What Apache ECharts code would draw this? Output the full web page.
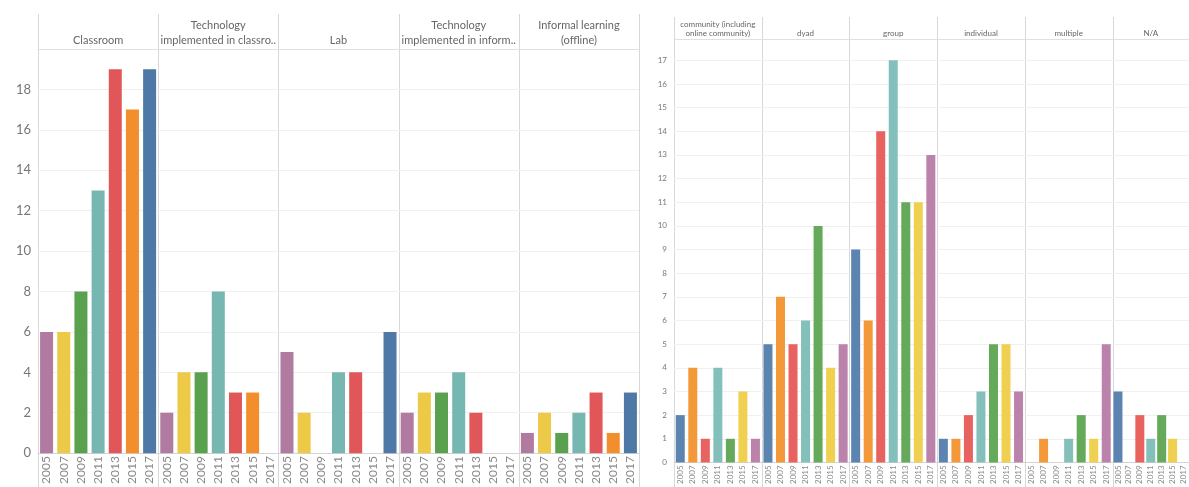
<!DOCTYPE html>
<html><head><meta charset="utf-8">
<script src="https://cdn.jsdelivr.net/npm/echarts@6/dist/echarts.min.js"></script>
<style>html,body{margin:0;padding:0;background:#fff}#c{width:1189px;height:487px}</style>
</head><body><div id="c"></div>
<script>
// ---- data ----
const years = ['2005','2007','2009','2011','2013','2015','2017'];

const leftHeaders = ['Classroom','Technology\nimplemented in classro..','Lab','Technology\nimplemented in inform..','Informal learning\n(offline)'];
const classroom      = [6, 6, 8, 13, 19, 17, 19];
const techClassroom  = [2, 4, 4, 8, 3, 3, null];
const lab            = [5, 2, null, 4, 4, null, 6];
const techInformal   = [2, 3, 3, 4, 2, null, null];
const informal       = [1, 2, 1, 2, 3, 1, 3];
const leftValues = [classroom, techClassroom, lab, techInformal, informal];
const leftTicks = [0, 2, 4, 6, 8, 10, 12, 14, 16, 18];

const rightHeaders = ['community (including\nonline community)','dyad','group','individual','multiple','N/A'];
const community  = [2, 4, 1, 4, 1, 3, 1];
const dyad       = [5, 7, 5, 6, 10, 4, 5];
const group      = [9, 6, 14, 17, 11, 11, 13];
const individual = [1, 1, 2, 3, 5, 5, 3];
const multiple   = [null, 1, null, 1, 2, 1, 5];
const na         = [3, null, 2, 1, 2, 1, null];
const rightValues = [community, dyad, group, individual, multiple, na];
const rightTicks = [0,1,2,3,4,5,6,7,8,9,10,11,12,13,14,15,16,17];

const leftColors  = ['#b07aa1','#edc948','#59a14f','#76b7b2','#e15759','#f28e2b','#4e79a7'];
const rightColors = ['#5b84b0','#f4993a','#e8625f','#84c0bb','#64aa5a','#f0d050','#bb83ac'];

// ---- layout ----
const L = {x0: 38, panelW: 120.2, headTop: 14, plotTop: 49, base: 459, max: 20, interval: 2,
           barW: 13, tickFont: 13, xFont: 12, xMargin: 3, headFont: 11, headLH: 15, headMargin: 1, yLabelMargin: 7};
const R = {x0: 674, panelW: 87.7, headTop: 17, plotTop: 39, base: 470, max: 17.9, interval: 1,
           barW: 9, tickFont: 8, xFont: 8, xMargin: 3, headFont: 8, headLH: 9, headMargin: 1, yLabelMargin: 7};
const H = 487;

const option = {animation:false, grid:[], xAxis:[], yAxis:[], series:[], graphic:[]};
const FONT = 'Lato';

function build(cfg, headers, values, colors, ticks) {
  headers.forEach((h, i) => {
    const gi = option.grid.length;
    option.grid.push({left: cfg.x0 + i*cfg.panelW, width: cfg.panelW, top: cfg.plotTop, height: cfg.base - cfg.plotTop});
    const xa = option.xAxis.length;
    option.xAxis.push({type:'category', gridIndex: gi, data: years, position:'bottom',
      axisLine:{show:true, lineStyle:{color:'#d4d4d4'}}, axisTick:{show:false},
      axisLabel:{rotate:90, interval:0, fontSize: cfg.xFont, color:'#8a8a8a', fontFamily: FONT, margin: cfg.xMargin}});
    option.xAxis.push({type:'category', gridIndex: gi, data: [h], position:'top',
      axisLine:{show:true, lineStyle:{color:'#e0e0e0'}}, axisTick:{show:false},
      axisLabel:{interval:0, fontSize: cfg.headFont, lineHeight: cfg.headLH, color:'#666', fontFamily: FONT, margin: cfg.headMargin}});
    option.yAxis.push({type:'value', gridIndex: gi, min:0, max: cfg.max, interval: cfg.interval,
      axisLine:{show:false}, axisTick:{show:false},
      axisLabel:{show: i===0, fontSize: cfg.tickFont, color:'#777', fontFamily: FONT, margin: cfg.yLabelMargin,
        showMaxLabel:false, formatter: v => ticks.includes(v) ? String(v) : ''},
      splitLine:{show:true, lineStyle:{color:'#f0f0f0'}}});
    option.series.push({type:'bar', xAxisIndex: xa, yAxisIndex: gi, data: values[i], barWidth: cfg.barW,
      itemStyle:{color: p => colors[p.dataIndex]}});
  });
  for (let i = 0; i <= headers.length; i++) {
    const x = Math.round(cfg.x0 + i*cfg.panelW) + 0.5;
    option.graphic.push({type:'line', shape:{x1:x, y1:cfg.headTop, x2:x, y2:H}, style:{stroke:'#d8d8d8', lineWidth:1}, silent:true});
  }
}
build(L, leftHeaders, leftValues, leftColors, leftTicks);
build(R, rightHeaders, rightValues, rightColors, rightTicks);

const chart = echarts.init(document.getElementById('c'), null, {renderer:'canvas'});
chart.setOption(option);
</script></body></html>
